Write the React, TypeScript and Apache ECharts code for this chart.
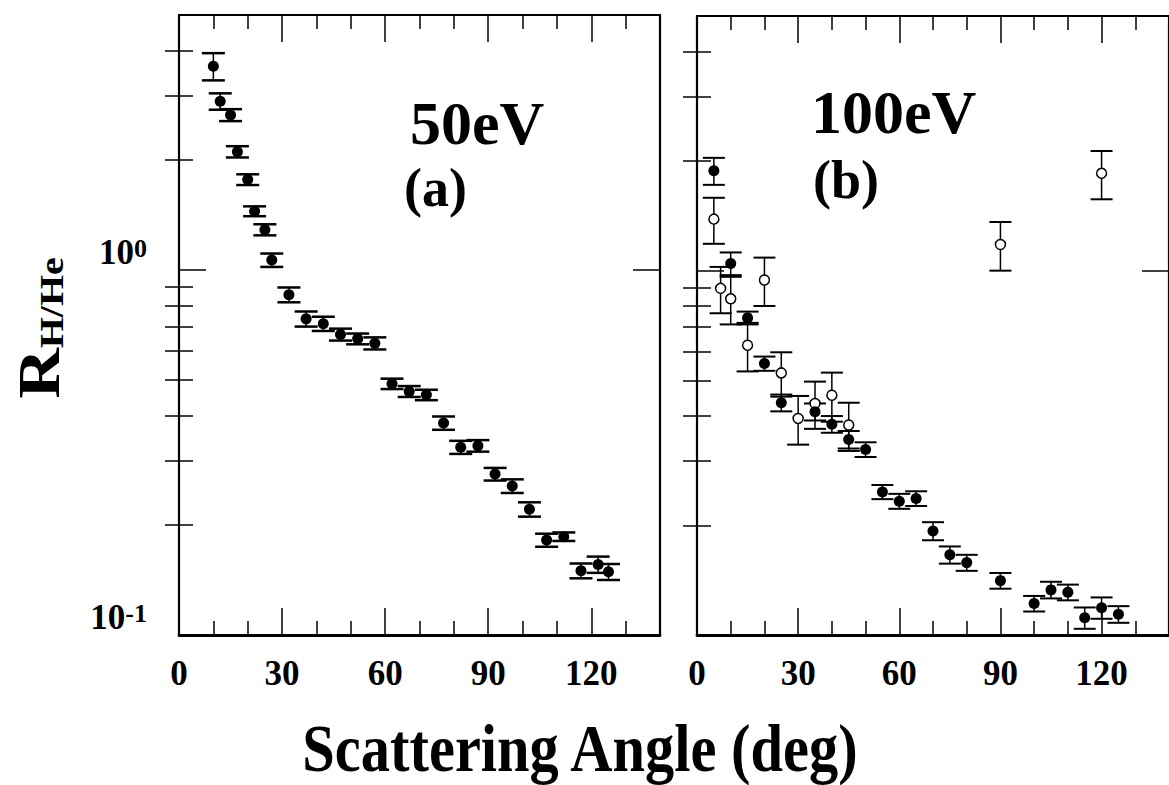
import React, { useEffect, useRef } from 'react';
import * as echarts from 'echarts';

// ---- data ----
// (a) 50 eV, filled circles
const angles50 = [10, 12, 15, 17, 20, 22, 25, 27, 32, 37, 42, 47, 52, 57, 62, 67, 72, 77, 82, 87, 92, 97, 102, 107, 112, 117, 122, 125];
const ratio50 = [3.62, 2.9, 2.66, 2.11, 1.77, 1.45, 1.29, 1.065, 0.856, 0.735, 0.713, 0.666, 0.648, 0.63, 0.488, 0.465, 0.455, 0.381, 0.327, 0.33, 0.276, 0.256, 0.221, 0.182, 0.186, 0.15, 0.156, 0.149];
const err50 = [0.31, 0.15, 0.1, 0.075, 0.06, 0.045, 0.045, 0.045, 0.04, 0.035, 0.032, 0.025, 0.022, 0.024, 0.016, 0.016, 0.015, 0.016, 0.0135, 0.012, 0.011, 0.011, 0.01, 0.0075, 0.005, 0.007, 0.008, 0.0075];

// (b) 100 eV, filled circles
const angles100Filled = [5, 10, 15, 20, 25, 35, 40, 45, 50, 55, 60, 65, 70, 75, 80, 90, 100, 105, 110, 115, 120, 125];
const ratio100Filled = [1.88, 1.047, 0.742, 0.556, 0.434, 0.41, 0.379, 0.344, 0.323, 0.247, 0.233, 0.237, 0.193, 0.166, 0.158, 0.141, 0.122, 0.133, 0.131, 0.1115, 0.1188, 0.114];
const err100Filled = [0.16, 0.075, 0.03, 0.025, 0.023, 0.022, 0.02, 0.019, 0.015, 0.011, 0.011, 0.011, 0.011, 0.009, 0.008, 0.007, 0.006, 0.007, 0.0065, 0.0075, 0.008, 0.006];

// (b) 100 eV, open circles
const angles100Open = [5, 7, 10, 15, 20, 25, 30, 35, 40, 45, 90, 120];
const ratio100Open = [1.385, 0.894, 0.837, 0.624, 0.943, 0.524, 0.393, 0.432, 0.455, 0.377, 1.18, 1.85];
const err100Open = [0.2, 0.13, 0.125, 0.095, 0.143, 0.073, 0.06, 0.064, 0.07, 0.057, 0.18, 0.28];

// axes
const xLabelValues = [0, 30, 60, 90, 120];
const xMajorTicks = [30, 60, 90, 120];
const xMinorTicks = [10, 20, 40, 50, 70, 80, 100, 110, 130];
const yLabelValues = [0.1, 1];
const yMajorTicks = [1];
const yMinorTicks = [0.2, 0.3, 0.4, 0.5, 0.6, 0.7, 0.8, 0.9, 2, 3, 4];

const panelEnergy = ['50eV', '100eV'];
const panelTag = ['(a)', '(b)'];
const xTitle = 'Scattering Angle (deg)';

const FONT = '"Liberation Serif", "Times New Roman", serif';
const BLACK = '#000';

function buildXAxes(g: number) {
  const base = { type: 'value', gridIndex: g, min: 0, max: 140, splitLine: { show: false } };
  const tickStyle = { color: BLACK, width: 1.5 };
  return [
    {
      ...base,
      position: 'bottom',
      axisLine: { show: true, onZero: false, lineStyle: { color: BLACK, width: 2.8 } },
      axisTick: { show: true, inside: true, length: 27, customValues: xMajorTicks, lineStyle: tickStyle },
      axisLabel: {
        show: true,
        customValues: xLabelValues,
        margin: 21,
        fontFamily: FONT,
        fontWeight: 'bold',
        fontSize: 35,
        color: BLACK,
      },
    },
    {
      ...base,
      position: 'bottom',
      axisLine: { show: false },
      axisTick: { show: true, inside: true, length: 14, customValues: xMinorTicks, lineStyle: tickStyle },
      axisLabel: { show: false },
    },
    {
      ...base,
      position: 'top',
      axisLine: { show: true, onZero: false, lineStyle: { color: BLACK, width: 2.2 } },
      axisTick: { show: true, inside: true, length: 27, customValues: xMajorTicks, lineStyle: tickStyle },
      axisLabel: { show: false },
    },
    {
      ...base,
      position: 'top',
      axisLine: { show: false },
      axisTick: { show: true, inside: true, length: 14, customValues: xMinorTicks, lineStyle: tickStyle },
      axisLabel: { show: false },
    },
  ];
}

function buildYAxes(g: number, withLabels: boolean) {
  const base = { type: 'log', logBase: 10, gridIndex: g, min: 0.1, max: 5, splitLine: { show: false } };
  const line = { show: true, onZero: false, lineStyle: { color: BLACK, width: 2.2 } };
  const tickStyle = { color: BLACK, width: 1.5 };
  return [
    {
      ...base,
      position: 'left',
      axisLine: line,
      axisTick: { show: true, inside: true, length: 27, customValues: yMajorTicks, lineStyle: tickStyle },
      axisLabel: withLabels
        ? {
            show: true,
            customValues: yLabelValues,
            margin: 32,
            verticalAlign: 'bottom',
            formatter: (v: number) => `{b|10}{s|${Math.round(Math.log10(v))}}`,
            rich: {
              b: { fontFamily: FONT, fontWeight: 'bold', fontSize: 35, color: BLACK, lineHeight: 35, padding: [16, 0, 0, 0], verticalAlign: 'bottom' },
              s: { fontFamily: FONT, fontWeight: 'bold', fontSize: 26, color: BLACK, lineHeight: 26, verticalAlign: 'top' },
            },
          }
        : { show: false },
    },
    {
      ...base,
      position: 'left',
      axisLine: { show: false },
      axisTick: { show: true, inside: true, length: 14, customValues: yMinorTicks, lineStyle: tickStyle },
      axisLabel: { show: false },
    },
    {
      ...base,
      position: 'right',
      axisLine: line,
      axisTick: { show: true, inside: true, length: 27, customValues: yMajorTicks, lineStyle: tickStyle },
      axisLabel: { show: false },
    },
    {
      ...base,
      position: 'right',
      axisLine: { show: false },
      axisTick: { show: true, inside: true, length: 14, customValues: yMinorTicks, lineStyle: tickStyle },
      axisLabel: { show: false },
    },
  ];
}

function errorSeries(g: number, xs: number[], ys: number[], es: number[], capHalf: number, capWidth: number, name: string) {
  return {
    name,
    type: 'custom',
    xAxisIndex: 4 * g,
    yAxisIndex: 4 * g,
    silent: true,
    z: 2,
    clip: false,
    data: xs.map((x, i) => [x, ys[i] - es[i], ys[i] + es[i]]),
    encode: { x: 0, y: [1, 2] },
    renderItem: (_params: any, api: any) => {
      const x = api.value(0);
      const lo = api.coord([x, api.value(1)]);
      const hi = api.coord([x, api.value(2)]);
      return {
        type: 'group',
        children: [
          { type: 'line', shape: { x1: lo[0], y1: lo[1], x2: hi[0], y2: hi[1] }, style: { stroke: BLACK, lineWidth: 1.5 } },
          { type: 'line', shape: { x1: lo[0] - capHalf, y1: lo[1], x2: lo[0] + capHalf, y2: lo[1] }, style: { stroke: BLACK, lineWidth: capWidth } },
          { type: 'line', shape: { x1: hi[0] - capHalf, y1: hi[1], x2: hi[0] + capHalf, y2: hi[1] }, style: { stroke: BLACK, lineWidth: capWidth } },
        ],
      };
    },
  };
}

function pointSeries(g: number, xs: number[], ys: number[], open: boolean, name: string) {
  return {
    name,
    type: 'scatter',
    xAxisIndex: 4 * g,
    yAxisIndex: 4 * g,
    z: 3,
    symbol: 'circle',
    symbolSize: open ? 10 : 11,
    itemStyle: open
      ? { color: '#fff', borderColor: BLACK, borderWidth: 1.5, opacity: 1 }
      : { color: BLACK, borderColor: BLACK, borderWidth: 0, opacity: 1 },
    data: xs.map((x, i) => [x, ys[i]]),
  };
}

function bigText(text: string, x: number, y: number, size: number) {
  return {
    type: 'text',
    x,
    y,
    silent: true,
    style: {
      text,
      fontFamily: FONT,
      fontWeight: 'bold',
      fontSize: size,
      fill: BLACK,
      align: 'left',
      verticalAlign: 'middle',
    },
  };
}

export default function App() {
  const ref = useRef<HTMLDivElement>(null);

  useEffect(() => {
    if (!ref.current) return;
    const chart = echarts.init(ref.current, undefined, { renderer: 'svg' });
    const option: any = {
      animation: false,
      backgroundColor: '#fff',
      grid: [
        { left: 179, top: 15, width: 481, height: 620 },
        { left: 697, top: 16, width: 481, height: 619 },
      ],
      xAxis: [...buildXAxes(0), ...buildXAxes(1)],
      yAxis: [...buildYAxes(0, true), ...buildYAxes(1, false)],
      series: [
        errorSeries(0, angles50, ratio50, err50, 11.5, 2.5, '50eV error'),
        pointSeries(0, angles50, ratio50, false, '50eV'),
        errorSeries(1, angles100Open, ratio100Open, err100Open, 11, 2, '100eV open error'),
        errorSeries(1, angles100Filled, ratio100Filled, err100Filled, 11, 2, '100eV filled error'),
        pointSeries(1, angles100Open, ratio100Open, true, '100eV open'),
        pointSeries(1, angles100Filled, ratio100Filled, false, '100eV filled'),
      ],
      graphic: [
        bigText(panelEnergy[0], 410, 123, 62),
        bigText(panelTag[0], 404, 188, 54),
        bigText(panelEnergy[1], 811, 112, 62),
        bigText(panelTag[1], 813, 180, 54),
        {
          type: 'text',
          x: 580,
          y: 748,
          scaleX: 0.86,
          silent: true,
          style: {
            text: xTitle,
            fontFamily: FONT,
            fontWeight: 'bold',
            fontSize: 68,
            fill: BLACK,
            align: 'center',
            verticalAlign: 'middle',
          },
        },
        {
          type: 'text',
          x: 39,
          y: 328,
          rotation: Math.PI / 2,
          scaleY: 0.85,
          silent: true,
          style: {
            text: '{r|R}{s|H/He}',
            align: 'center',
            verticalAlign: 'middle',
            rich: {
              r: { fontFamily: FONT, fontWeight: 'bold', fontSize: 70, fill: BLACK, lineHeight: 70, verticalAlign: 'top' },
              s: { fontFamily: FONT, fontWeight: 'bold', fontSize: 40, fill: BLACK, lineHeight: 40, padding: [43, 0, 0, 0], verticalAlign: 'bottom' },
            },
          },
        },
      ],
    };
    chart.setOption(option);
    return () => chart.dispose();
  }, []);

  return (
    <div
      ref={ref}
      style={{ position: 'fixed', left: 0, top: 0, width: 1169, height: 785, overflow: 'hidden', background: '#fff' }}
    />
  );
}
